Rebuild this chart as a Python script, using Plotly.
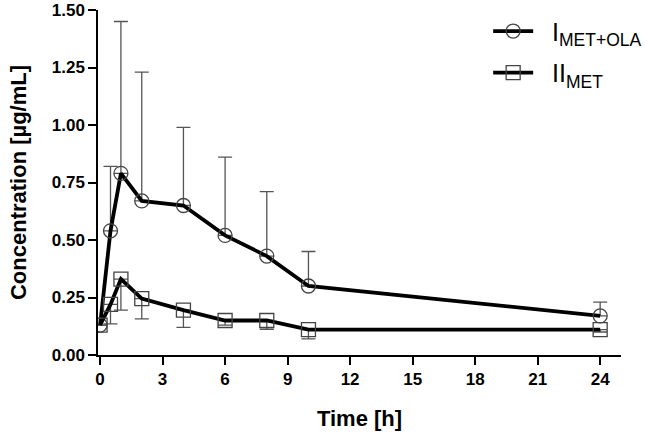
import plotly.graph_objects as go

time_h = [0, 0.5, 1, 2, 4, 6, 8, 10, 24]
conc_met_ola = [0.13, 0.54, 0.79, 0.67, 0.65, 0.52, 0.43, 0.30, 0.17]
sd_met_ola = [0.0, 0.28, 0.66, 0.56, 0.34, 0.34, 0.28, 0.15, 0.06]
conc_met = [0.13, 0.22, 0.33, 0.245, 0.195, 0.15, 0.15, 0.11, 0.11]
sd_met = [0.0, 0.085, 0.135, 0.088, 0.075, 0.02, 0.038, 0.04, 0.01]
x_ticks = [0, 3, 6, 9, 12, 15, 18, 21, 24]
y_ticks = [0.0, 0.25, 0.5, 0.75, 1.0, 1.25, 1.5]

FONT = "Liberation Sans, Arial, sans-serif"
zeros = [0] * len(time_h)
NB = "\u00a0\u00a0"

fig = go.Figure()
fig.add_trace(go.Scatter(
    x=time_h, y=conc_met_ola, mode="lines+markers",
    name=NB + "I<sub>MET+OLA</sub>", legendgroup="a",
    line=dict(color="black", width=3.8),
    marker=dict(symbol="circle-open", size=14, color="#444",
                line=dict(color="#444", width=1.3)),
    error_y=dict(type="data", symmetric=False, array=sd_met_ola,
                 arrayminus=zeros, color="#555", thickness=1.3, width=7),
))
fig.add_trace(go.Scatter(
    x=time_h, y=conc_met, mode="lines+markers",
    name=NB + "II<sub>MET</sub>", legendgroup="b",
    line=dict(color="black", width=3.8),
    marker=dict(symbol="square-open", size=14, color="#444",
                line=dict(color="#444", width=1.3)),
    error_y=dict(type="data", symmetric=False, array=zeros,
                 arrayminus=sd_met, color="#555", thickness=1.3, width=7),
))

fig.update_layout(
    width=645, height=437,
    margin=dict(l=98, r=24, t=10, b=82, autoexpand=False),
    paper_bgcolor="white", plot_bgcolor="white",
    font=dict(family=FONT, color="black"),
    legend=dict(x=0.746, y=1.005, xanchor="left", yanchor="top",
                font=dict(size=25, family=FONT, color="black"),
                bgcolor="rgba(0,0,0,0)", itemwidth=40, tracegroupgap=6),
    xaxis=dict(
        range=[-0.1, 25.0], tickvals=x_ticks, ticktext=[str(v) for v in x_ticks],
        showgrid=False, zeroline=False, showline=True, linecolor="black", linewidth=1.5,
        ticks="outside", ticklen=8, tickwidth=1.5, tickcolor="black",
        tickfont=dict(size=17, family=FONT, weight="bold"),
        title=dict(text="Time [h]", font=dict(size=22, family=FONT, weight="bold"), standoff=22),
    ),
    yaxis=dict(
        range=[0, 1.5], tickvals=y_ticks, ticktext=[f"{v:.2f}" for v in y_ticks],
        showgrid=False, zeroline=False, showline=True, linecolor="black", linewidth=1.5,
        ticks="outside", ticklen=8, tickwidth=1.5, tickcolor="black",
        tickfont=dict(size=17, family=FONT, weight="bold"),
        title=dict(text="Concentration [µg/mL]", font=dict(size=22, family=FONT, weight="bold"), standoff=19),
    ),
)

fig.write_html("out.html", config={"displayModeBar": False},
               post_script="document.body.style.margin='0';")
